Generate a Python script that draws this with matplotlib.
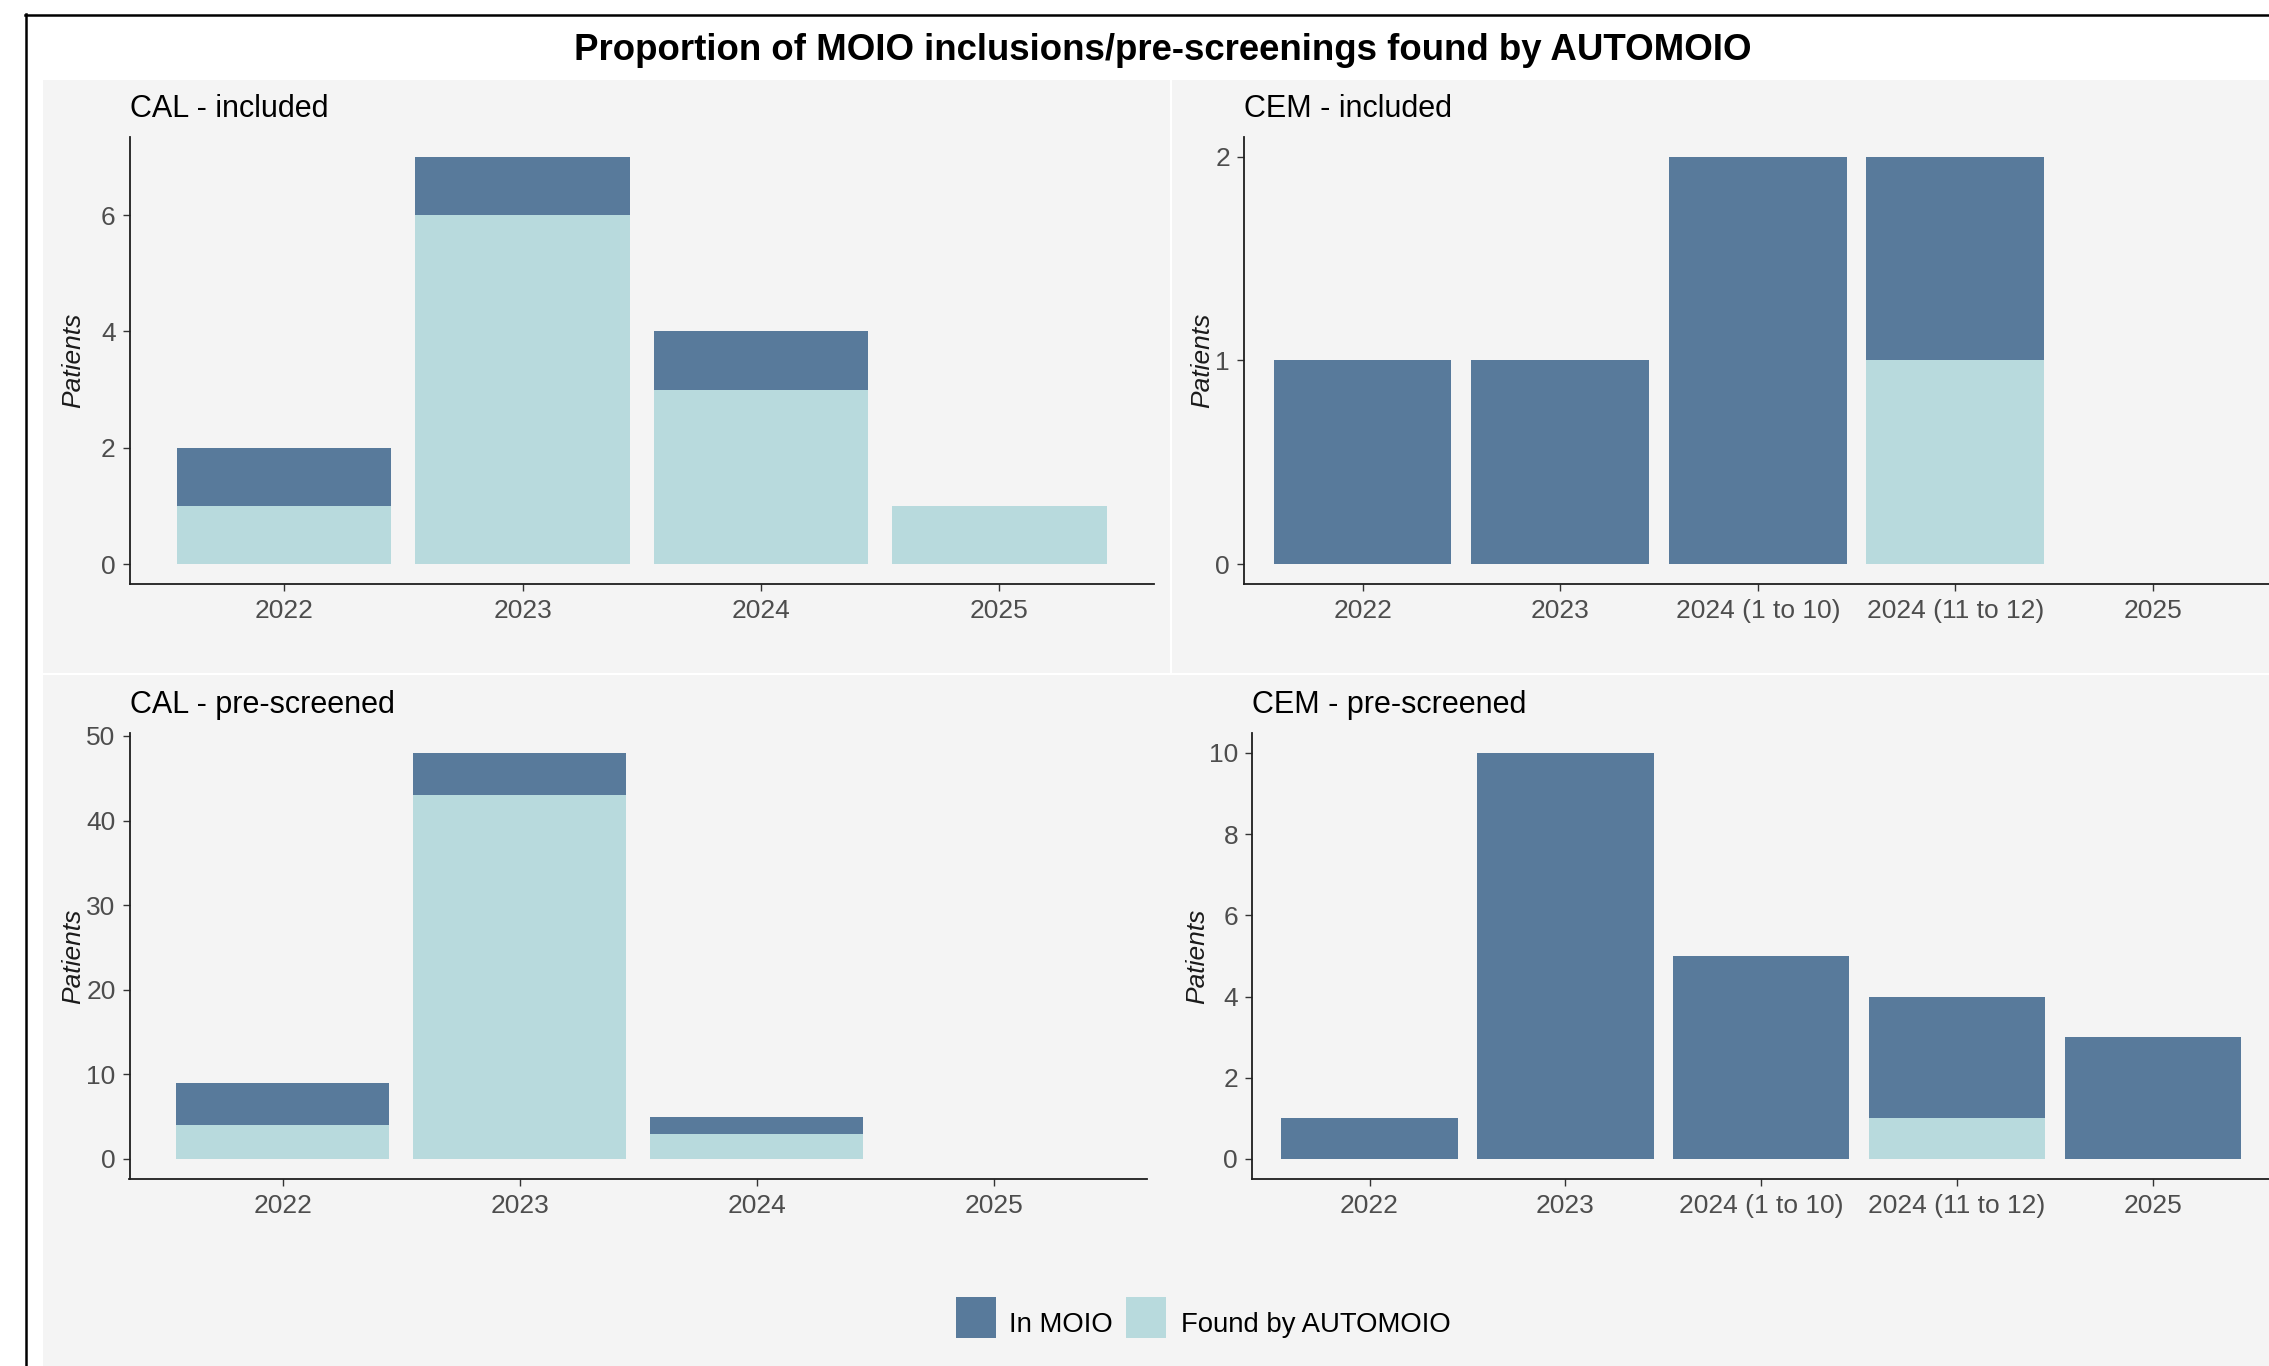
import numpy as np
import matplotlib
matplotlib.use("Agg")
import matplotlib.pyplot as plt
from matplotlib.patches import Rectangle
from matplotlib.lines import Line2D

# ---- data -------------------------------------------------------------
cal_periods = ["2022", "2023", "2024", "2025"]
cem_periods = ["2022", "2023", "2024 (1 to 10)", "2024 (11 to 12)", "2025"]

cal_included_moio = [2, 7, 4, 1]
cal_included_found = [1, 6, 3, 1]

cem_included_moio = [1, 1, 2, 2, 0]
cem_included_found = [0, 0, 0, 1, 0]

cal_prescreened_moio = [9, 48, 5, 0]
cal_prescreened_found = [4, 43, 3, 0]

cem_prescreened_moio = [1, 10, 5, 4, 3]
cem_prescreened_found = [0, 0, 0, 1, 0]

cal_included_ticks = [0, 2, 4, 6]
cem_included_ticks = [0, 1, 2]
cal_prescreened_ticks = [0, 10, 20, 30, 40, 50]
cem_prescreened_ticks = [0, 2, 4, 6, 8, 10]

legend_labels = ["In MOIO", "Found by AUTOMOIO"]
main_title = "Proportion of MOIO inclusions/pre-screenings found by AUTOMOIO"
y_title = "Patients"

# ---- style ------------------------------------------------------------
C_MOIO = "#587A9B"
C_FOUND = "#B8DADD"
BG = "#F4F4F4"
TICK_TXT = "#4D4D4D"
AXIS_COL = "#1E1E1E"
FONT = "Liberation Sans"

W, H = 2269, 1366
DPI = 100
plt.rcParams["font.family"] = [FONT, "DejaVu Sans"]

fig = plt.figure(figsize=(W / DPI, H / DPI), dpi=DPI)
fig.patch.set_facecolor("white")


def fx(px):
    return px / W


def fy(py):
    return 1 - py / H


def bg_block(x0, y0, x1, y1):
    fig.add_artist(Rectangle((fx(x0), fy(y1)), (x1 - x0) / W, (y1 - y0) / H,
                             transform=fig.transFigure, facecolor=BG,
                             edgecolor="none", zorder=-10))


# grey plot backgrounds with thin white gaps between them
bg_block(43, 80, 1170, 673)
bg_block(1172, 80, W, 673)
bg_block(43, 675, W, H)

# outer frame (top and left edges)
fig.add_artist(Line2D([fx(25), 1.0], [fy(15), fy(15)], transform=fig.transFigure,
                      color="black", lw=1.8, zorder=5))
fig.add_artist(Line2D([fx(26), fx(26)], [fy(14), 0.0], transform=fig.transFigure,
                      color="black", lw=1.8, zorder=5))

fig.text(fx(1162.5), fy(60), main_title, ha="center", va="baseline",
         fontsize=26.4, fontweight="bold", color="black")


def draw_panel(box, title, periods, moio, found, ticks, x_expand,
               ylab_baseline_x, title_baseline_y):
    x0, y0, x1, y1 = box
    ax = fig.add_axes([fx(x0), fy(y1), (x1 - x0) / W, (y1 - y0) / H])
    ax.set_facecolor("none")
    pos = np.arange(len(periods))
    ax.bar(pos, moio, width=0.9, color=C_MOIO, linewidth=0)
    ax.bar(pos, found, width=0.9, color=C_FOUND, linewidth=0)

    top = max(moio)
    ax.set_ylim(-0.05 * top, 1.05 * top)
    ax.set_xlim(-x_expand, len(periods) - 1 + x_expand)
    ax.set_xticks(pos, periods)
    ax.set_yticks(ticks, [str(t) for t in ticks])

    for side in ("top", "right"):
        ax.spines[side].set_visible(False)
    for side in ("left", "bottom"):
        ax.spines[side].set_color(AXIS_COL)
        ax.spines[side].set_linewidth(1.3)
    ax.tick_params(axis="both", length=5, width=1.0, color="#333333",
                   labelsize=19, labelcolor=TICK_TXT)
    ax.tick_params(axis="x", pad=5.5)
    ax.tick_params(axis="y", pad=5)

    fig.text(fx(x0), fy(title_baseline_y), title, ha="left", va="baseline",
             fontsize=22, color="black")
    fig.text(fx(ylab_baseline_x), fy((y0 + y1) / 2), y_title, rotation=90,
             rotation_mode="anchor", ha="center", va="baseline",
             fontsize=19, style="italic", color="#1A1A1A")
    return ax


draw_panel((129.5, 136.5, 1154, 584.4), "CAL - included", cal_periods,
           cal_included_moio, cal_included_found, cal_included_ticks,
           0.649, 80, 117)
draw_panel((1244, 136.5, 2271.6, 584.4), "CEM - included", cem_periods,
           cem_included_moio, cem_included_found, cem_included_ticks,
           0.6, 1209, 117)
draw_panel((129.5, 732.5, 1147, 1179.3), "CAL - pre-screened", cal_periods,
           cal_prescreened_moio, cal_prescreened_found, cal_prescreened_ticks,
           0.646, 80, 713)
draw_panel((1252, 732.5, 2270.5, 1179.3), "CEM - pre-screened", cem_periods,
           cem_prescreened_moio, cem_prescreened_found, cem_prescreened_ticks,
           0.6, 1204, 713)

# legend row: colour keys with their labels
key_lefts = [956, 1126]
text_lefts = [1009, 1181]
for color, label, kx, tx in zip([C_MOIO, C_FOUND], legend_labels, key_lefts, text_lefts):
    fig.add_artist(Rectangle((fx(kx), fy(1338)), 40 / W, 41 / H,
                             transform=fig.transFigure, facecolor=color,
                             edgecolor="none", zorder=3))
    fig.text(fx(tx), fy(1332), label, ha="left", va="baseline",
             fontsize=19.8, color="black")

fig.savefig("out.png", dpi=DPI, facecolor=fig.get_facecolor())
